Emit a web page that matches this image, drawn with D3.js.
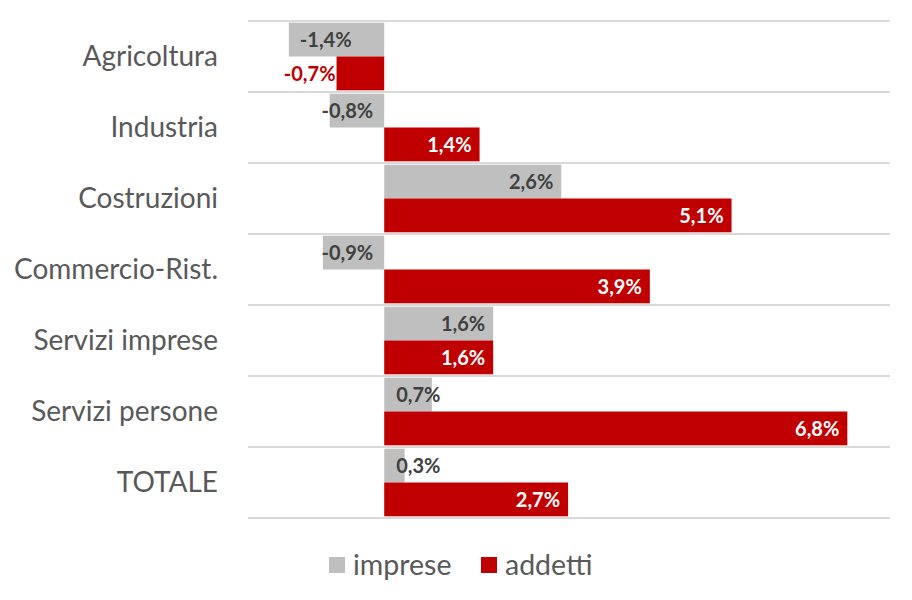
<!DOCTYPE html>
<html lang="it">
<head>
<meta charset="UTF-8">
<title>imprese e addetti</title>
<script src="https://cdn.jsdelivr.net/npm/d3@7"></script>
<style>
  body { margin: 0; background: #fff; }
  svg text { font-family: Lato, "Open Sans", sans-serif; }
</style>
</head>
<body>
<script>
// settori e variazioni %
const categories = ["Agricoltura", "Industria", "Costruzioni", "Commercio-Rist.", "Servizi imprese", "Servizi persone", "TOTALE"];
const imprese = [-1.4, -0.8, 2.6, -0.9, 1.6, 0.7, 0.3];
const addetti = [-0.7, 1.4, 5.1, 3.9, 1.6, 6.8, 2.7];
const seriesNames = ["imprese", "addetti"];
const colors = ["#bfbfbf", "#c00000"];

const w = 912, h = 600;
const plotLeft = 248, plotRight = 895, plotTop = 21, plotBottom = 518;

const svg = d3.select("body").append("svg")
  .attr("width", w).attr("height", h);

const x = d3.scaleLinear().domain([-2, 7.5]).range([plotLeft, plotRight]);
const y = d3.scaleBand().domain(categories).range([plotTop, plotBottom]);
const inner = d3.scaleBand().domain(seriesNames).range([0, y.bandwidth()]).paddingOuter(0.05);

// gridlines between categories
const lines = categories.map(c => y(c)).concat([plotBottom]);
svg.selectAll("line.grid")
  .data(lines)
  .enter().append("line")
  .attr("class", "grid")
  .attr("x1", plotLeft).attr("x2", 890)
  .attr("y1", d => d).attr("y2", d => d)
  .attr("stroke", "#d9d9d9").attr("stroke-width", 2);

// category labels
svg.selectAll("text.cat")
  .data(categories)
  .enter().append("text")
  .attr("class", "cat")
  .attr("x", 218)
  .attr("y", d => y(d) + y.bandwidth() / 2)
  .attr("dy", "0.35em")
  .attr("text-anchor", "end")
  .attr("font-size", 28)
  .attr("fill", "#595959")
  .text(d => d);

const fmt = v => d3.format(".1f")(v).replace(".", ",").replace("−", "-") + "%";
const zero = x(0);

seriesNames.forEach((s, si) => {
  const vals = si === 0 ? imprese : addetti;
  const g = svg.append("g");
  vals.forEach((v, i) => {
    const c = categories[i];
    const y0 = y(c) + inner(s);
    const x0 = Math.min(x(v), zero), x1 = Math.max(x(v), zero);
    g.append("rect")
      .attr("x", x0).attr("y", y0)
      .attr("width", x1 - x0).attr("height", inner.bandwidth())
      .attr("fill", colors[si]);

    const t = g.append("text")
      .attr("y", y0 + inner.bandwidth() / 2)
      .attr("dy", "0.36em")
      .attr("font-size", 20)
      .attr("font-weight", "bold")
      .attr("fill", si === 0 ? "#404040" : "#ffffff")
      .text(fmt(v));
    const tw = t.node().getComputedTextLength();
    const bw = x1 - x0;
    if (v >= 0) {
      if (tw + 16 <= bw) {
        t.attr("x", x(v) - 8).attr("text-anchor", "end");
      } else {
        t.attr("x", zero + 12).attr("text-anchor", "start").attr("fill", "#404040");
      }
    } else {
      if (tw + 20 <= bw) {
        t.attr("x", x(v) + 11).attr("text-anchor", "start");
      } else if (si === 0) {
        t.attr("x", zero - 11).attr("text-anchor", "end");
      } else {
        t.attr("x", x(v) - 1).attr("text-anchor", "end").attr("fill", colors[si]);
      }
    }
  });
});

// legend
const legend = svg.append("g").attr("transform", "translate(329,565)");
const lx = [0, 152];
seriesNames.forEach((s, i) => {
  legend.append("rect")
    .attr("x", lx[i]).attr("y", -8)
    .attr("width", 16).attr("height", 16)
    .attr("fill", colors[i]);
  legend.append("text")
    .attr("x", lx[i] + 24).attr("y", 0)
    .attr("dy", "0.35em")
    .attr("font-size", 28.5)
    .attr("fill", "#595959")
    .text(s);
});
</script>
</body>
</html>
